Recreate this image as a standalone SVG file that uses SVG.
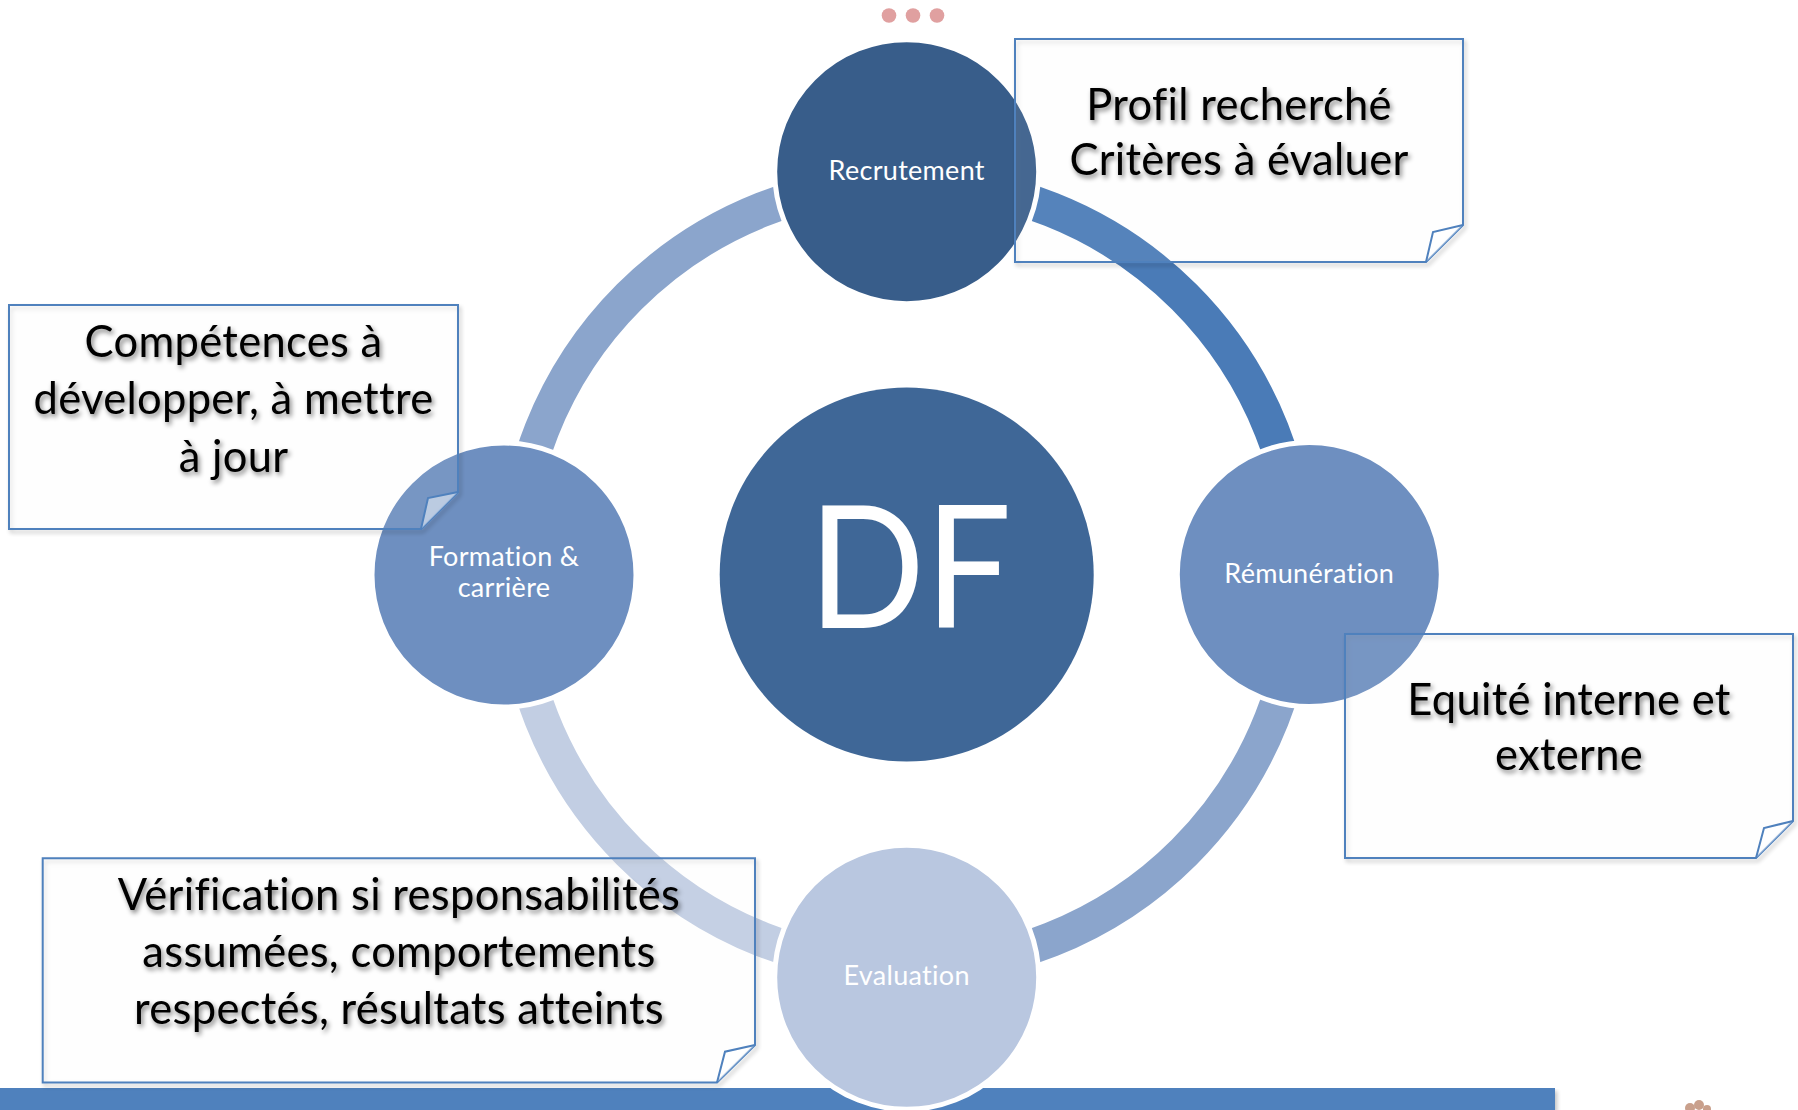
<svg xmlns="http://www.w3.org/2000/svg" width="1798" height="1110" viewBox="0 0 1798 1110">
<defs>
<style>
.lbl{font-family:Lato,"Open Sans","Liberation Sans",sans-serif;fill:#ffffff;text-anchor:middle}
.sm{font-size:27px;letter-spacing:0.3px}
.note{font-family:Lato,"Open Sans","Liberation Sans",sans-serif;font-size:43.5px;letter-spacing:0.3px;fill:#000000;text-anchor:middle}
.box{fill:#ffffff;fill-opacity:0.06;stroke:#4f81bd;stroke-width:2;stroke-linejoin:miter}
.fold{fill:#ffffff;fill-opacity:0.5;stroke:#4f81bd;stroke-width:2;stroke-linejoin:miter}
.ring{fill:none;stroke-width:35}
.node{stroke:#ffffff;stroke-width:5}
</style>
<filter id="ts" x="-10%" y="-40%" width="120%" height="180%">
<feGaussianBlur in="SourceAlpha" stdDeviation="2.5"/>
<feOffset dx="2" dy="3"/>
<feComponentTransfer><feFuncA type="linear" slope="0.5"/></feComponentTransfer>
<feMerge><feMergeNode/><feMergeNode in="SourceGraphic"/></feMerge>
</filter>
<filter id="bs" x="-5%" y="-5%" width="110%" height="115%">
<feGaussianBlur in="SourceAlpha" stdDeviation="2"/>
<feOffset dx="2" dy="3"/>
<feComponentTransfer><feFuncA type="linear" slope="0.25"/></feComponentTransfer>
<feMerge><feMergeNode/><feMergeNode in="SourceGraphic"/></feMerge>
</filter>
</defs>
<rect width="1798" height="1110" fill="#ffffff"/>
<g id="decor">
<rect x="0" y="1088" width="1555" height="22" fill="#4f81bd" filter="url(#bs)"/>
<circle cx="889" cy="15.5" r="7.3" fill="#e0a0a0"/>
<circle cx="913" cy="15.5" r="7.3" fill="#e0a0a0"/>
<circle cx="937" cy="15.5" r="7.3" fill="#e0a0a0"/>
<circle cx="1690" cy="1108" r="5" fill="#c9a08c"/>
<circle cx="1699" cy="1105" r="5" fill="#c9a08c"/>
<circle cx="1707" cy="1109" r="4" fill="#c9a08c"/>
</g>
<g id="connectors">
<path class="ring" stroke="#4a7bb7" d="M906.7,182 A392.5,392.5 0 0 1 1299.2,574.5"/>
<path class="ring" stroke="#8ba5cc" d="M1299.2,574.5 A392.5,392.5 0 0 1 906.7,967"/>
<path class="ring" stroke="#c2cee3" d="M906.7,967 A392.5,392.5 0 0 1 514.2,574.5"/>
<path class="ring" stroke="#8ba5cc" d="M514.2,574.5 A392.5,392.5 0 0 1 906.7,182"/>
</g>
<g id="node-df">
<circle cx="906.7" cy="574.5" r="187" fill="#3f6797"/>
<text class="lbl" transform="translate(910,628) scale(0.9,1)" x="0" y="0" font-size="170">DF</text>
</g>
<g id="node-recrutement">
<circle class="node" cx="906.7" cy="171.7" r="132" fill="#385d8a"/>
<text class="lbl sm" x="906.7" y="180">Recrutement</text>
</g>
<g id="node-remuneration">
<circle class="node" cx="1309.3" cy="574.5" r="132" fill="#6e8fc0"/>
<text class="lbl sm" x="1309.3" y="582.7">Rémunération</text>
</g>
<g id="node-evaluation">
<circle class="node" cx="906.7" cy="977.3" r="132" fill="#b9c7e0"/>
<text class="lbl sm" x="906.7" y="985" fill="#f2f5fa">Evaluation</text>
</g>
<g id="node-formation">
<circle class="node" cx="504" cy="575" r="132" fill="#6e8fc0"/>
<text class="lbl sm" x="504" y="565.7">Formation &amp;</text>
<text class="lbl sm" x="504" y="596.7">carrière</text>
</g>
<g id="note-recrutement">
<path class="box" filter="url(#bs)" d="M1015,39 H1463 V225 L1426,262 H1015 Z"/>
<path class="fold" d="M1463,225 L1433,232 L1426,262"/>
<g filter="url(#ts)">
<text class="note" x="1239" y="120">Profil recherché</text>
<text class="note" x="1239" y="175">Critères à évaluer</text>
</g>
</g>
<g id="note-formation">
<path class="box" filter="url(#bs)" d="M9,305 H458 V492 L421,529 H9 Z"/>
<path class="fold" d="M458,492 L428,498 L421,529"/>
<g filter="url(#ts)">
<text class="note" x="233.5" y="356.7">Compétences à</text>
<text class="note" x="233.5" y="414">développer, à mettre</text>
<text class="note" x="233.5" y="471.5">à jour</text>
</g>
</g>
<g id="note-remuneration">
<path class="box" filter="url(#bs)" d="M1345,634 H1793 V821 L1756,858 H1345 Z"/>
<path class="fold" d="M1793,821 L1764,828 L1756,858"/>
<g filter="url(#ts)">
<text class="note" x="1569" y="714.5">Equité interne et</text>
<text class="note" x="1569" y="770">externe</text>
</g>
</g>
<g id="note-evaluation">
<path class="box" filter="url(#bs)" d="M42.7,858.3 H755 V1045 L717,1082.5 H42.7 Z"/>
<path class="fold" d="M755,1045 L725,1051.7 L717,1082.5"/>
<g filter="url(#ts)">
<text class="note" x="399" y="910">Vérification si responsabilités</text>
<text class="note" x="399" y="966.5">assumées, comportements</text>
<text class="note" x="399" y="1023.5">respectés, résultats atteints</text>
</g>
</g>
</svg>
